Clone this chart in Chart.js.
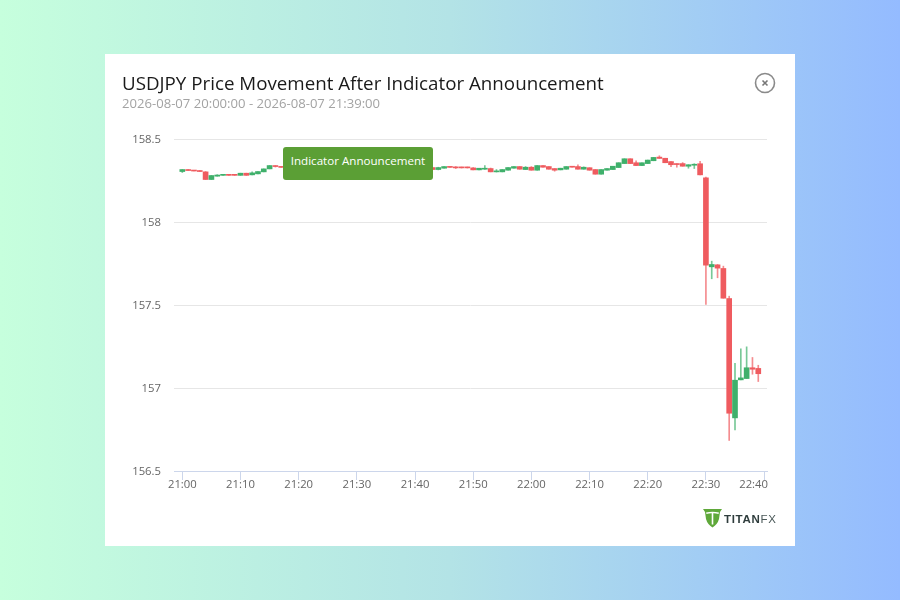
<!DOCTYPE html>
<html>
<head>
<meta charset="utf-8">
<title>USDJPY Price Movement After Indicator Announcement</title>
<script src="https://cdn.jsdelivr.net/npm/chart.js@4"></script>
<style>
   html, body { margin: 0; padding: 0; }
   body { width: 900px; height: 600px; position: relative; overflow: hidden; font-family: "Open Sans", sans-serif;
      background: linear-gradient( 90deg, #c6ffdd 0%, #b3e3e6 50%, #94bbff 100% ); }
   #card { position: absolute; left: 105px; top: 54px; width: 690px; height: 492px; background: #fff; }
   #chartCanvas { position: absolute; left: 0; top: 0; }
   #title { position: absolute; left: 17px; top: 16px; font-size: 18.75px; line-height: 26px; color: #1a1a1a; white-space: nowrap; }
   #subtitle { position: absolute; left: 17px; top: 39px; font-size: 13.1px; line-height: 20px; color: #a3a3a3; white-space: nowrap; }
   #close { position: absolute; left: 649px; top: 18px; }
   #note { position: absolute; left: 178px; top: 93px; width: 150px; height: 33px; border-radius: 3px; background: #5b9f35;
      color: #fff; font-size: 11.6px; line-height: 28px; text-align: center; }
   #logo { position: absolute; left: 598px; top: 455px; width: 80px; height: 20px; }
   #logoText { position: absolute; left: 21px; top: 1px; font-size: 11.5px; line-height: 18px; white-space: nowrap; color: #2f3d3d; font-family: "Liberation Sans", sans-serif; }
   #logoText b { font-weight: 700; letter-spacing: .7px; }
   #logoText span { font-weight: 400; letter-spacing: .8px; color: #4a5858; }
</style>
</head>
<body>
<div id="card">
   <canvas id="chartCanvas" width="690" height="492"></canvas>
   <div id="title">USDJPY Price Movement After Indicator Announcement</div>
   <div id="subtitle">2026-08-07 20:00:00 - 2026-08-07 21:39:00</div>
   <svg id="close" width="22" height="22" viewBox="0 0 22 22">
      <circle cx="11" cy="11" r="9.5" fill="none" stroke="#8a8a8a" stroke-width="1.6"/>
      <path d="M8.500 8.500 L13.500 13.500 M13.500 8.500 L8.500 13.500" stroke="#777" stroke-width="1.6" fill="none"/>
   </svg>
   <div id="note">Indicator Announcement</div>
   <div id="logo">
      <svg width="19" height="19" viewBox="0 0 19 19" style="position:absolute;left:0;top:0">
         <path d="M0 0 H19 L17 3 L16 10 Q14.500 15.500 9.500 18.500 Q4.500 15.500 3 10 L2 3 Z" fill="#5fa83a"/>
         <path d="M3 3.500 Q9.500 1.800 16 3.500 L15.500 5 Q12.500 4.200 10.300 4.300 V15.500 H8.700 V4.300 Q6.500 4.200 3.500 5 Z" fill="#fff"/>
      </svg>
      <div id="logoText"><b>TITAN</b><span>FX</span></div>
   </div>
</div>
<script>
const tickMinutes = [ 0, 10, 20, 30, 40, 50, 60, 70, 80, 90, 100 ];
const tickLabels  = [ '21:00', '21:10', '21:20', '21:30', '21:40', '21:50', '22:00', '22:10', '22:20', '22:30', '22:40' ];
const priceTicks  = [ 156.5, 157, 157.5, 158, 158.5 ];

const opens = [
   158.304, 158.316, 158.310, 158.310, 158.302, 158.256, 158.276, 158.281, 158.283, 158.283,
   158.281, 158.294, 158.284, 158.290, 158.302, 158.320, 158.337, 158.331, 158.329, 158.336,
   158.332, 158.330, 158.335, 158.338, 158.333, 158.331, 158.336, 158.340, 158.336, 158.330,
   158.334, 158.337, 158.332, 158.329, 158.333, 158.336, 158.331, 158.335, 158.338, 158.333,
   158.330, 158.334, 158.332, 158.328, 158.316, 158.324, 158.333, 158.329, 158.329, 158.329,
   158.326, 158.314, 158.318, 158.322, 158.302, 158.302, 158.312, 158.324, 158.334, 158.316,
   158.330, 158.312, 158.340, 158.334, 158.322, 158.314, 158.318, 158.333, 158.334, 158.318,
   158.327, 158.316, 158.288, 158.312, 158.316, 158.328, 158.352, 158.381, 158.357, 158.340,
   158.352, 158.369, 158.391, 158.384, 158.364, 158.351, 158.352, 158.336, 158.342, 158.351,
   158.266, 157.730, 157.742, 157.720, 157.539, 156.820, 157.049, 157.057, 157.122, 157.118
];
const highs = [
   158.316, 158.316, 158.310, 158.310, 158.304, 158.280, 158.285, 158.284, 158.283, 158.283,
   158.294, 158.294, 158.302, 158.304, 158.320, 158.340, 158.340, 158.333, 158.338, 158.340,
   158.336, 158.338, 158.341, 158.340, 158.337, 158.339, 158.342, 158.343, 158.338, 158.336,
   158.340, 158.339, 158.335, 158.336, 158.339, 158.338, 158.337, 158.341, 158.340, 158.336,
   158.337, 158.339, 158.335, 158.328, 158.330, 158.334, 158.333, 158.334, 158.331, 158.331,
   158.328, 158.324, 158.340, 158.325, 158.316, 158.316, 158.328, 158.334, 158.334, 158.334,
   158.334, 158.340, 158.340, 158.334, 158.322, 158.324, 158.334, 158.333, 158.345, 158.332,
   158.327, 158.316, 158.316, 158.322, 158.336, 158.357, 158.381, 158.381, 158.369, 158.357,
   158.373, 158.389, 158.399, 158.384, 158.364, 158.351, 158.358, 158.345, 158.351, 158.366,
   158.270, 157.764, 157.744, 157.734, 157.553, 157.148, 157.236, 157.248, 157.184, 157.137
];
const lows = [
   158.298, 158.310, 158.307, 158.304, 158.256, 158.256, 158.276, 158.281, 158.281, 158.281,
   158.281, 158.281, 158.284, 158.290, 158.302, 158.320, 158.331, 158.329, 158.327, 158.330,
   158.328, 158.328, 158.332, 158.330, 158.329, 158.330, 158.333, 158.334, 158.328, 158.327,
   158.332, 158.330, 158.326, 158.327, 158.331, 158.329, 158.329, 158.333, 158.331, 158.327,
   158.329, 158.331, 158.327, 158.316, 158.314, 158.324, 158.329, 158.322, 158.325, 158.325,
   158.314, 158.314, 158.316, 158.302, 158.301, 158.302, 158.312, 158.324, 158.318, 158.316,
   158.312, 158.312, 158.330, 158.318, 158.306, 158.314, 158.318, 158.330, 158.318, 158.318,
   158.312, 158.288, 158.288, 158.312, 158.316, 158.328, 158.352, 158.352, 158.340, 158.340,
   158.352, 158.369, 158.383, 158.357, 158.333, 158.330, 158.336, 158.324, 158.322, 158.284,
   157.503, 157.658, 157.664, 157.541, 156.684, 156.748, 157.049, 157.057, 157.083, 157.039
];
const closes = [
   158.316, 158.310, 158.307, 158.304, 158.256, 158.280, 158.283, 158.283, 158.281, 158.281,
   158.294, 158.281, 158.296, 158.304, 158.320, 158.340, 158.334, 158.329, 158.336, 158.332,
   158.330, 158.335, 158.338, 158.333, 158.331, 158.336, 158.340, 158.336, 158.330, 158.334,
   158.337, 158.332, 158.329, 158.333, 158.336, 158.331, 158.335, 158.338, 158.333, 158.330,
   158.334, 158.332, 158.328, 158.316, 158.328, 158.334, 158.329, 158.326, 158.326, 158.326,
   158.314, 158.324, 158.320, 158.302, 158.306, 158.316, 158.328, 158.334, 158.318, 158.330,
   158.312, 158.340, 158.330, 158.318, 158.312, 158.324, 158.334, 158.330, 158.318, 158.330,
   158.312, 158.288, 158.316, 158.322, 158.336, 158.357, 158.381, 158.352, 158.340, 158.357,
   158.373, 158.389, 158.383, 158.357, 158.345, 158.346, 158.336, 158.345, 158.346, 158.284,
   157.740, 157.744, 157.722, 157.541, 156.848, 157.047, 157.061, 157.122, 157.113, 157.086
];

const upColor   = '#3fb06b';
const downColor = '#ef5b5f';
const upWick    = 'rgba(63,176,107,.7)';
const downWick  = 'rgba(239,91,95,.7)';

document.addEventListener( "DOMContentLoaded", () => {

   const candleColors = closes.map( ( c, i ) => c >= opens[i] ? upColor : downColor );
   const wickColors   = closes.map( ( c, i ) => c >= opens[i] ? upWick : downWick );

   // Highcharts pulls the last label inside the plot, so nudge it back.
   // The y labels also sit a touch lower than Chart.js centres them.
   const shiftLabels = {
      id: 'shiftLabels',
      beforeDraw( chart ) {
         const xItems = chart.scales.x.getLabelItems();
         const last = xItems[ xItems.length - 1 ];
         if ( last && !last.shifted ) {
            last.options.translation[0] -= 10.5;
            last.shifted = true;
         }
         chart.scales.y.getLabelItems().forEach( item => {
            if ( !item.shifted ) {
               item.options.translation[1] += 1;
               item.shifted = true;
            }
         });
      }
   };

   new Chart( document.getElementById('chartCanvas'), {
      type: 'bar',
      plugins: [ shiftLabels ],
      data: {
         datasets: [
            {
               label: 'Body',
               data: opens.map( ( o, i ) => ({ x: i, y: [ o, closes[i] ] }) ),
               backgroundColor: candleColors,
               barThickness: 5,
               minBarLength: 1,
               order: 1
            },
            {
               label: 'Wick',
               data: highs.map( ( h, i ) => ({ x: i, y: [ lows[i], h ] }) ),
               backgroundColor: wickColors,
               barThickness: 1,
               order: 2
            }
         ]
      },
      options: {
         responsive: false,
         animation: false,
         grouped: false,
         layout: { padding: { top: 85, right: 28, bottom: 0, left: 0 } },
         plugins: {
            legend: { display: false },
            tooltip: { enabled: false },
            title: { display: false }
         },
         scales: {
            x: {
               type: 'linear',
               offset: false,
               min: -1.43,
               max: 100.5,
               afterBuildTicks: scale => { scale.ticks = tickMinutes.map( v => ({ value: v }) ); },
               afterFit: scale => { scale.height = 75; },
               border: { color: '#ccd6eb', width: 1 },
               grid: {
                  offset: false,
                  drawOnChartArea: false,
                  tickLength: 9,
                  tickColor: '#ccd6eb'
               },
               ticks: {
                  color: '#666666',
                  font: { family: '"Open Sans"', size: 11.3 },
                  padding: -2,
                  maxRotation: 0,
                  autoSkip: false,
                  callback: value => tickLabels[ tickMinutes.indexOf( value ) ]
               }
            },
            y: {
               min: 156.5,
               max: 158.5,
               afterBuildTicks: scale => { scale.ticks = priceTicks.map( v => ({ value: v }) ); },
               afterFit: scale => { scale.width = 69; },
               border: { display: false },
               grid: { color: '#e6e6e6', drawTicks: false },
               ticks: {
                  color: '#666666',
                  font: { family: '"Open Sans"', size: 11.3 },
                  padding: 13,
                  callback: value => String( value )
               }
            }
         }
      }
   });
});
</script>
</body>
</html>
